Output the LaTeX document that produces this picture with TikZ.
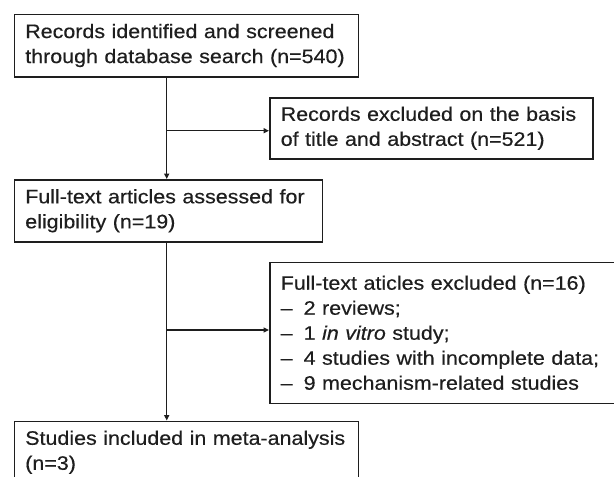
\documentclass[tikz,border=0pt]{standalone}
\usepackage{fontspec}
\setmainfont[FakeStretch=1.1,FakeBold=0.4]{Liberation Sans}
\usetikzlibrary{arrows.meta}
\definecolor{ink}{HTML}{1E1E1E}
\begin{document}
\begin{tikzpicture}[x=1pt,y=-1pt,
  flowbox/.style={draw=ink, line width=1.5pt, anchor=north west, text=ink,
    inner xsep=11pt, inner ysep=0pt, align=left,
    font=\fontsize{19.5}{25}\selectfont},
  link/.style={draw=ink, line width=1.5pt, -{Triangle[length=5.5pt,width=5pt]}}]
\useasboundingbox (0,0) rectangle (614,477);
\fill[white] (0,0) rectangle (614,477);
\node[flowbox, minimum width=344pt, minimum height=62.5pt, text width=322pt] (b1) at (13.5,13.5)
  {\mbox{Records identified and screened}\\\mbox{through database search (n=540)}};
\node[flowbox, minimum width=323pt, minimum height=61pt, text width=301pt] (b2) at (269,97)
  {\mbox{Records excluded on the basis}\\\mbox{of title and abstract (n=521)}};
\node[flowbox, minimum width=308pt, minimum height=62pt, text width=286pt] (b3) at (13.5,179)
  {\mbox{Full-text articles assessed for}\\\mbox{eligibility (n=19)}};
\node[flowbox, minimum width=360pt, minimum height=141pt, text width=338pt] (b4) at (269,261.5)
  {\mbox{Full-text aticles excluded (n=16)}\\
   \mbox{–\hspace{11pt}2 reviews;}\\
   \mbox{–\hspace{11pt}1 \textit{in vitro} study;}\\
   \mbox{–\hspace{11pt}4 studies with incomplete data;}\\
   \mbox{–\hspace{11pt}9 mechanism-related studies}};
\node[flowbox, minimum width=344pt, minimum height=62pt, text width=322pt] (b5) at (13.5,420.5)
  {\mbox{Studies included in meta-analysis}\\\mbox{(n=3)}};
\coordinate (spine) at (166.7,0);
\coordinate (j1) at (166.7,130.7);
\coordinate (j2) at (166.7,330);
\draw[line width=1.5pt, ink] (b1.south -| spine) -- (j1);
\draw[link] (j1) -- (b3.north -| spine);
\draw[link] (j1) -- (j1 -| b2.west);
\draw[line width=1.5pt, ink] (b3.south -| spine) -- (j2);
\draw[link] (j2) -- (b5.north -| spine);
\draw[link] (j2) -- (j2 -| b4.west);
\end{tikzpicture}
\end{document}
